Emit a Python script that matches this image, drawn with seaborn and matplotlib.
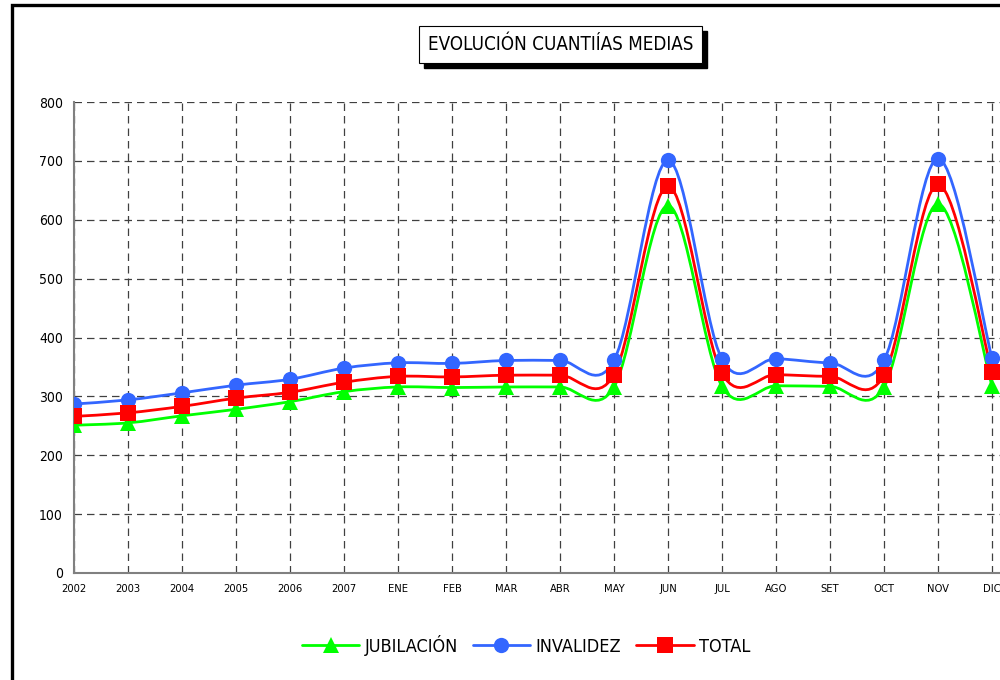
import numpy as np
import pandas as pd
import seaborn as sns
import matplotlib.pyplot as plt
from matplotlib.path import Path
from matplotlib.patches import PathPatch, Rectangle
from matplotlib.lines import Line2D

categorias = ['2002', '2003', '2004', '2005', '2006', '2007', 'ENE', 'FEB', 'MAR',
              'ABR', 'MAY', 'JUN', 'JUL', 'AGO', 'SET', 'OCT', 'NOV', 'DIC']
jubilacion = [251, 255, 267, 278, 291, 308, 316, 315, 316, 316, 316, 624, 317, 318, 317, 316, 627, 318]
invalidez = [287, 294, 306, 319, 329, 348, 357, 356, 361, 361, 361, 701, 363, 364, 357, 361, 704, 365]
total = [266, 272, 283, 297, 307, 324, 334, 333, 336, 336, 337, 657, 339, 337, 334, 336, 660, 341]
y_ticks = [0, 100, 200, 300, 400, 500, 600, 700, 800]

sns.set_style('white')
plt.rcParams['font.family'] = ['DejaVu Sans']
plt.rcParams['font.stretch'] = 'condensed'
plt.rcParams['text.color'] = 'black'

fig = plt.figure(figsize=(10, 6.8), dpi=100)
W, H = 1000, 680


def px(x0, y0, x1, y1):
    # rectangulo en pixeles (origen arriba-izquierda) -> coords de figura
    return (x0 / W, 1 - y1 / H), (x1 - x0) / W, (y1 - y0) / H


# marco exterior
xy, w, h = px(12, 5, 1030, 720)
fig.patches.append(Rectangle(xy, w, h, transform=fig.transFigure, fill=False,
                             edgecolor='black', linewidth=2.4, clip_on=False))

ax = fig.add_axes([74 / W, 1 - 573 / H, 17.5 * 54 / W, 471 / H])

series = [
    ('JUBILACIÓN', jubilacion, '#00ff00', '^'),
    ('INVALIDEZ', invalidez, '#3366ff', 'o'),
    ('TOTAL', total, '#ff0000', 's'),
]


def curva_suave(valores):
    # curva tipo Excel (Bezier Catmull-Rom) que pasa por los puntos
    pts = np.column_stack([np.arange(len(valores)), valores]).astype(float)
    verts = [pts[0]]
    codes = [Path.MOVETO]
    n = len(pts)
    for i in range(n - 1):
        p0 = pts[i - 1] if i > 0 else pts[i]
        p1, p2 = pts[i], pts[i + 1]
        p3 = pts[i + 2] if i + 2 < n else pts[i + 1]
        c1 = p1 + (p2 - p0) / 6
        c2 = p2 - (p3 - p1) / 6
        verts += [c1, c2, p2]
        codes += [Path.CURVE4] * 3
    return Path(verts, codes)


handles = []
for z, (nombre, valores, color, marcador) in enumerate(series):
    ax.add_patch(PathPatch(curva_suave(valores), fill=False, edgecolor=color,
                           linewidth=2.0, zorder=3 + z))
    df = pd.DataFrame({'mes': categorias, 'valor': valores})
    sns.lineplot(data=df, x='mes', y='valor', ax=ax, color=color, marker=marcador,
                 markersize=11 if marcador != '^' else 12, markeredgewidth=0,
                 linestyle='', zorder=6 + z, sort=False)
    handles.append(Line2D([0], [0], color=color, linewidth=2.0, marker=marcador,
                          markersize=11, markeredgewidth=0, label=nombre))

ax.set_xlim(0, 17.5)
ax.set_ylim(0, 800)
ax.set_yticks(y_ticks)
ax.set_xticks(range(len(categorias)))
ax.set_xticklabels(categorias, fontsize=8)
ax.set_yticklabels([str(v) for v in y_ticks], fontsize=10)
ax.set_xlabel('')
ax.set_ylabel('')

ax.grid(True, linestyle=(0, (6, 4)), color='#404040', linewidth=0.9)
ax.set_axisbelow(True)
for lado in ['top', 'right']:
    ax.spines[lado].set_visible(False)
for lado in ['left', 'bottom']:
    ax.spines[lado].set_color('#808080')
    ax.spines[lado].set_linewidth(1.5)
ax.tick_params(axis='both', direction='inout', length=8, width=1, color='black',
               labelcolor='black', pad=4)
ax.patch.set_alpha(0)

# titulo con sombra
xy, w, h = px(424, 31, 707, 68)
fig.patches.append(Rectangle(xy, w, h, transform=fig.transFigure, facecolor='black',
                             edgecolor='black', zorder=1))
xy, w, h = px(419, 26, 702, 63)
fig.patches.append(Rectangle(xy, w, h, transform=fig.transFigure, facecolor='white',
                             edgecolor='black', linewidth=0.8, zorder=2))
fig.text(560.5 / W, 1 - 45 / H, 'EVOLUCIÓN CUANTIÍAS MEDIAS', ha='center', va='center',
         fontsize=13.5, color='black', zorder=3)

fig.legend(handles=handles, loc='center', bbox_to_anchor=(526 / W, 1 - 645 / H),
           ncol=3, frameon=False, fontsize=13, handlelength=3.2, handletextpad=0.3,
           columnspacing=0.8, labelcolor='black')

fig.savefig('out.png', dpi=100)
